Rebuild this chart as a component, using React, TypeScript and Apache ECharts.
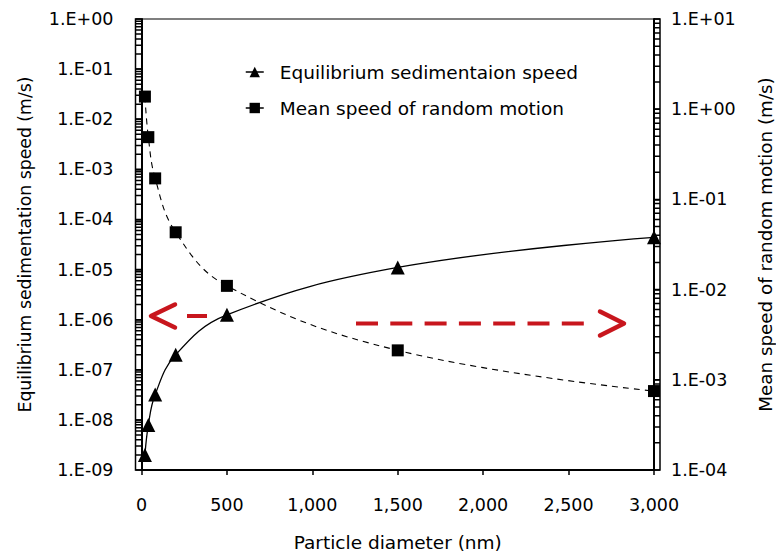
import React, { useEffect, useRef } from 'react';
import * as echarts from 'echarts';

// ---- data ----
const diameters = [20, 40, 80, 200, 500, 1500, 3000]; // nm
const sedimentationSpeed = [2.0e-9, 7.9e-9, 3.2e-8, 2.0e-7, 1.25e-6, 1.1e-5, 4.4e-5]; // m/s (left axis)
const randomMotionSpeed = [1.38, 0.49, 0.171, 0.0432, 0.011, 0.00212, 0.00075]; // m/s (right axis)

const seriesNames = ['Equilibrium sedimentaion speed', 'Mean speed of random motion'];

const xTickLabels = ['0', '500', '1,000', '1,500', '2,000', '2,500', '3,000'];
const leftTickLabels = ['1.E-09', '1.E-08', '1.E-07', '1.E-06', '1.E-05', '1.E-04', '1.E-03', '1.E-02', '1.E-01', '1.E+00'];
const rightTickLabels = ['1.E-04', '1.E-03', '1.E-02', '1.E-01', '1.E+00', '1.E+01'];

const xTitle = 'Particle diameter (nm)';
const leftTitle = 'Equilibrium sedimentation speed (m/s)';
const rightTitle = 'Mean speed of random motion (m/s)';

const tickMantissas = [1, 2, 3, 4, 5, 6, 7, 8, 9];
const leftDecades = [-9, -8, -7, -6, -5, -4, -3, -2, -1, 0];
const rightDecades = [-4, -3, -2, -1, 0, 1];

const FONT = 'DejaVu Sans';
const RED = '#c8161d';

function logTicks(decades: number[]): number[] {
  const out: number[] = [];
  decades.forEach((d, i) => {
    const last = i === decades.length - 1;
    (last ? [1] : tickMantissas).forEach((m) => out.push(m * Math.pow(10, d)));
  });
  return out;
}

function arrowGraphics(): any[] {
  return [
    {
      type: 'polyline',
      shape: { points: [[175, 304.5], [151, 316], [175, 327.5]] },
      style: { stroke: RED, lineWidth: 4.5, fill: null, lineCap: 'round', lineJoin: 'round' },
      z: 10,
    },
    {
      type: 'line',
      shape: { x1: 187, y1: 316, x2: 207, y2: 316 },
      style: { stroke: RED, lineWidth: 4 },
      z: 10,
    },
    {
      type: 'line',
      shape: { x1: 356, y1: 323.5, x2: 588, y2: 323.5 },
      style: { stroke: RED, lineWidth: 4, lineDash: [22, 12.3] },
      z: 10,
    },
    {
      type: 'polyline',
      shape: { points: [[600, 311.5], [624, 323.5], [600, 335.5]] },
      style: { stroke: RED, lineWidth: 4.5, fill: null, lineCap: 'round', lineJoin: 'round' },
      z: 10,
    },
  ];
}

export default function App() {
  const ref = useRef<HTMLDivElement>(null);

  useEffect(() => {
    if (!ref.current) return;
    const chart = echarts.init(ref.current, null, { renderer: 'svg' });

    const labelStyle = { color: '#000', fontFamily: FONT, fontSize: 17.5 };

    chart.setOption({
      animation: false,
      grid: { left: 141.5, right: 122, top: 19, bottom: 85, outerBoundsMode: 'none' },
      legend: {
        data: seriesNames,
        orient: 'vertical',
        left: 245,
        top: 61,
        padding: 0,
        itemWidth: 18,
        itemHeight: 13,
        itemGap: 14,
        lineStyle: { type: 'solid', width: 1.5, color: '#000' },
        textStyle: { color: '#000', fontFamily: FONT, fontSize: 18.5, lineHeight: 22, padding: [0, 0, 0, 11] },
      },
      xAxis: {
        type: 'value',
        min: 0,
        max: 3000,
        interval: 500,
        name: xTitle,
        nameLocation: 'middle',
        nameGap: 63,
        nameTextStyle: { color: '#000', fontFamily: FONT, fontSize: 18.5 },
        axisLine: { show: true, lineStyle: { color: '#000', width: 2 } },
        axisTick: { show: true, length: 5, lineStyle: { color: '#000', width: 1.5 } },
        axisLabel: { ...labelStyle, margin: 26, formatter: (v: number) => xTickLabels[Math.round(v / 500)] },
        splitLine: { show: false },
      },
      yAxis: [
        {
          type: 'log',
          min: 1e-9,
          max: 1,
          interval: 1,
          name: leftTitle,
          nameLocation: 'middle',
          nameGap: 108,
          nameTextStyle: { color: '#000', fontFamily: FONT, fontSize: 17.3 },
          axisLine: { show: true, lineStyle: { color: '#000', width: 2 } },
          axisTick: { show: true, length: 6, lineStyle: { color: '#000', width: 1.5 } },
          axisLabel: {
            ...labelStyle,
            margin: 28,
            formatter: (v: number) => leftTickLabels[Math.round(Math.log10(v)) + 9],
          },
          splitLine: { show: false },
        },
        {
          type: 'log',
          min: 1e-4,
          max: 10,
          interval: 1,
          name: rightTitle,
          nameLocation: 'middle',
          nameGap: 102,
          nameTextStyle: { color: '#000', fontFamily: FONT, fontSize: 18.3 },
          axisLine: { show: true, lineStyle: { color: '#000', width: 2 } },
          axisTick: { show: true, length: 6, lineStyle: { color: '#000', width: 1.5 } },
          axisLabel: {
            ...labelStyle,
            margin: 17,
            formatter: (v: number) => rightTickLabels[Math.round(Math.log10(v)) + 4],
          },
          splitLine: { show: false },
        },
      ],
      series: [
        {
          name: seriesNames[0],
          type: 'line',
          yAxisIndex: 0,
          data: diameters.map((d, i) => [d, sedimentationSpeed[i]]),
          smooth: 0.4,
          symbol: 'triangle',
          symbolSize: 14,
          itemStyle: { color: '#000' },
          lineStyle: { color: '#000', width: 1.3 },
          z: 3,
        },
        {
          name: seriesNames[1],
          type: 'line',
          yAxisIndex: 1,
          data: diameters.map((d, i) => [d, randomMotionSpeed[i]]),
          smooth: 0.4,
          symbol: 'rect',
          symbolSize: 12,
          itemStyle: { color: '#000' },
          lineStyle: { color: '#000', width: 1.1, type: [6, 5] },
          z: 3,
        },
      ],
      graphic: arrowGraphics(),
    });

    // frame top line and log-spaced ticks, placed through the chart's own axis scales
    const px = (finder: any, v: number) => {
      const r: any = chart.convertToPixel(finder, v);
      return Number(Array.isArray(r) ? r[0] : r);
    };
    const xLeft = px({ xAxisIndex: 0 }, 0);
    const xRight = px({ xAxisIndex: 0 }, 3000);
    const yTop = px({ yAxisIndex: 0 }, 1);
    const extra: any[] = [
      {
        type: 'line',
        shape: { x1: xLeft, y1: yTop, x2: xRight, y2: yTop },
        style: { stroke: '#000', lineWidth: 1.2 },
        z: 100,
      },
    ];
    const leftPts: number[][] = [];
    logTicks(leftDecades).forEach((v) => {
      const y = px({ yAxisIndex: 0 }, v);
      if (isFinite(y)) leftPts.push([xLeft - 6, y], [xLeft, y], [xLeft - 6, y]);
    });
    const rightPts: number[][] = [];
    logTicks(rightDecades).forEach((v) => {
      const y = px({ yAxisIndex: 1 }, v);
      if (isFinite(y)) rightPts.push([xRight + 6, y], [xRight, y], [xRight + 6, y]);
    });
    extra.push({
      type: 'polyline',
      shape: { points: leftPts },
      style: { stroke: '#000', lineWidth: 1.5, fill: null },
      z: 100,
    });
    extra.push({
      type: 'polyline',
      shape: { points: rightPts },
      style: { stroke: '#000', lineWidth: 1.5, fill: null },
      z: 100,
    });
    chart.setOption({ graphic: [...arrowGraphics(), ...extra] });

    return () => chart.dispose();
  }, []);

  return <div ref={ref} style={{ position: 'fixed', left: 0, top: 0, width: 776, height: 555, background: '#fff' }} />;
}
